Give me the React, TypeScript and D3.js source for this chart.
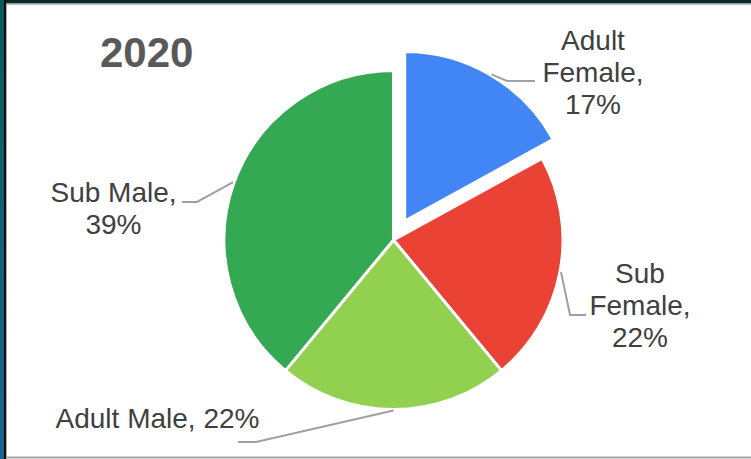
import React from "react";
import * as d3 from "d3";

const categories = ["Adult Female", "Sub Female", "Adult Male", "Sub Male"];
const values = [17, 22, 22, 39];
const colors = ["#4285f4", "#ea4335", "#92d050", "#34a853"];
const labelLines = [
  ["Adult", "Female,", "17%"],
  ["Sub", "Female,", "22%"],
  ["Adult Male, 22%"],
  ["Sub Male,", "39%"],
];
const title = "2020";

const W = 751;
const H = 459;
const CX = 393.5;
const CY = 240;
const R = 169.5;
const EXPLODE = 22;
const LINE_H = 32;

// layout of labels: text anchor point (first baseline) and leader elbow/end
const labelLayout = [
  { x: 593, y: 50, elbow: [507, 81], end: [535, 81] },
  { x: 640, y: 283, elbow: [570, 315], end: [586, 315] },
  { x: 157.5, y: 428, elbow: [256, 442], end: [238, 442] },
  { x: 113.5, y: 202, elbow: [197, 202], end: [182, 202] },
];

export default function App() {
  const pie = d3.pie<number>().sort(null).startAngle(0).endAngle(2 * Math.PI);
  const arcs = pie(values);
  const arcGen = d3.arc<d3.PieArcDatum<number>>().innerRadius(0).outerRadius(R);
  const font = "'Liberation Sans', Arial, Helvetica, sans-serif";

  return (
    <div style={{ position: "fixed", left: 0, top: 0 }}>
      <svg width={W} height={H} style={{ display: "block" }}>
        <defs>
          <linearGradient id="lb" x1="0" y1="0" x2="0" y2="1">
            <stop offset="0" stopColor="#0c5a58" />
            <stop offset="1" stopColor="#1c6391" />
          </linearGradient>
        </defs>
        <rect x={0} y={0} width={W} height={H} fill="#ffffff" />
        <rect x={0} y={0} width={W} height={3.5} fill="#0b2a2e" />
        <rect x={0} y={3.5} width={W} height={1.2} fill="#a8a8a8" />
        <rect x={0} y={0} width={4} height={H} fill="url(#lb)" />
        <rect x={4} y={0} width={2} height={H} fill="#0a0f12" />
        <rect x={6} y={4} width={1} height={H} fill="#b0b0b0" />
        <rect x={6} y={456.5} width={W} height={2} fill="#a4a4a4" />

        <text x={100} y={67} fontFamily={font} fontWeight="bold" fontSize={42} fill="#595959">
          {title}
        </text>

        {arcs.map((a, i) => {
          const mid = (a.startAngle + a.endAngle) / 2;
          const off = i === 0 ? EXPLODE : 0;
          const dx = Math.sin(mid) * off;
          const dy = -Math.cos(mid) * off;
          return (
            <path
              key={categories[i]}
              d={arcGen(a) || ""}
              transform={`translate(${CX + dx},${CY + dy})`}
              fill={colors[i]}
              stroke="#ffffff"
              strokeWidth={3}
              strokeLinejoin="round"
            />
          );
        })}

        {arcs.map((a, i) => {
          const mid = (a.startAngle + a.endAngle) / 2;
          const off = i === 0 ? EXPLODE : 0;
          const sx = CX + Math.sin(mid) * (R + off + 1);
          const sy = CY - Math.cos(mid) * (R + off + 1);
          const L = labelLayout[i];
          return (
            <g key={"lab" + i}>
              <polyline
                points={`${sx},${sy} ${L.elbow[0]},${L.elbow[1]} ${L.end[0]},${L.end[1]}`}
                fill="none"
                stroke="#a0a0a0"
                strokeWidth={2}
              />
              <text fontFamily={font} fontSize={28} fill="#404040" textAnchor="middle">
                {labelLines[i].map((t, j) => (
                  <tspan key={j} x={L.x} y={L.y + j * LINE_H}>
                    {t}
                  </tspan>
                ))}
              </text>
            </g>
          );
        })}
      </svg>
    </div>
  );
}
